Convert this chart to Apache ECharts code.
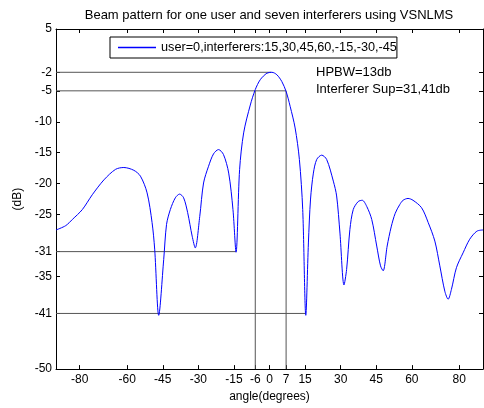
<!doctype html>
<html>
<head>
    <meta charset="utf-8">
    <title>Beam pattern</title>
    <script type="text/javascript" src="https://cdn.jsdelivr.net/npm/echarts@6/dist/echarts.min.js"></script>
</head>
<body style="margin:0;padding:0;">
    <div id="tb" style="width:484px;height:408px;"></div>
    <script>
        // 曲线数据
        var angles = [-90, -85.9, -83.1, -78.9, -74.7, -69.8, -64.9, -61.4, -57.2, -54.4, -51.6, -49.5, -48.4, -46.7,
            -44.6, -43.4, -41.8, -39.7, -37.9, -36.2, -34.5, -32.6, -31.3, -29.4, -27.8, -25.7, -23.6, -21.5, -19.4,
            -17.2, -15.4, -14.1, -12.6, -10.9, -8.1, -6.0, -3.9, -1.1, 1.0, 3.1, 5.2, 7.0, 8.7, 10.8, 12.6, 14.0, 15.3,
            16.4, 17.3, 18.5, 19.9, 22.0, 24.1, 26.9, 28.3, 29.7, 31.4, 32.5, 33.9, 35.3, 37.4, 39.1, 41.0, 43.1, 45.2,
            46.8, 47.9, 49.6, 51.3, 53.0, 54.9, 56.3, 58.4, 60.5, 64.1, 66.9, 69.7, 71.8, 73.9, 75.3, 76.7, 78.8, 81.6,
            84.4, 87.4, 90];
        var gainDb = [-27.5, -26.8, -25.8, -24.2, -21.8, -19.4, -17.7, -17.4, -17.85, -18.8, -21.5, -26.3, -30.6, -41.3,
            -32.3, -26.6, -24.2, -22.3, -21.7, -22.3, -24.7, -28.5, -30.4, -25.3, -19.9, -17.2, -15.2, -14.5, -15.3,
            -18.3, -24.2, -31.1, -17.7, -11.8, -7.3, -4.8, -3.2, -2.15, -2.0, -2.4, -3.5, -5.1, -7.5, -11.0, -16.1, -24.2, -41.3,
            -29.6, -22.5, -18.3, -16.1, -15.4, -16.1, -19.6, -22.0, -28.0, -36.4, -33.9, -27.4, -24.2, -22.9, -22.7, -23.7, -25.8, -30.1,
            -33.3, -34.1, -30.1, -27.0, -24.8, -23.4, -22.7, -22.4, -22.7, -23.9, -26.3, -29.3, -33.3, -37.4, -38.7, -37.1, -33.6, -31.2,
            -29.0, -27.7, -27.5];

        // 刻度
        var xTicks = [-80, -60, -45, -30, -15, -6, 0, 7, 15, 30, 45, 60, 80];
        var yTicks = [5, -2, -5, -10, -15, -20, -25, -31, -35, -41, -50];

        // 辅助线的数值
        var peakDb = -2;
        var peakAngle = 0.7;
        var halfPowerDb = -5;
        var hpbwAngles = [-6, 7];
        var supLevels = [-31, -41];
        var supAngles = [-14.2, 15.3];

        var seriesName = 'user=0,interferers:15,30,45,60,-15,-30,-45';
        var font = 'Liberation Sans, Arial, sans-serif';
        var guideColor = '#555';

        var curve = angles.map(function (a, i) { return [a, gainDb[i]]; });

        var guides = [
            [[-90, peakDb], [peakAngle, peakDb]],
            [[-90, halfPowerDb], [hpbwAngles[1], halfPowerDb]],
            [[hpbwAngles[0], halfPowerDb], [hpbwAngles[0], -50]],
            [[hpbwAngles[1], halfPowerDb], [hpbwAngles[1], -50]],
            [[-90, supLevels[0]], [supAngles[0], supLevels[0]]],
            [[-90, supLevels[1]], [supAngles[1], supLevels[1]]]
        ];

        var series = guides.map(function (g) {
            return {
                type: 'line',
                data: g,
                symbol: 'none',
                silent: true,
                lineStyle: { color: guideColor, width: 1 },
                z: 1
            };
        });
        series.push({
            name: seriesName,
            type: 'line',
            data: curve,
            symbol: 'none',
            smooth: 0.3,
            color: '#0000ff',
            lineStyle: { color: '#0000ff', width: 1 },
            z: 3
        });

        var axisCommon = {
            axisLine: { show: true, onZero: false, lineStyle: { color: '#000', width: 1 } },
            splitLine: { show: false }
        };

        var bt = document.getElementById('tb');
        var btchart = echarts.init(bt);
        btchart.setOption({
            animation: false,
            backgroundColor: '#fff',
            textStyle: { fontFamily: font },
            title: {
                text: 'Beam pattern for one user and seven interferers using VSNLMS',
                left: 269,
                textAlign: 'center',
                top: 9,
                padding: 0,
                textStyle: { fontSize: 13, fontWeight: 'normal', color: '#000', fontFamily: font }
            },
            legend: {
                data: [seriesName],
                left: 110,
                top: 37,
                padding: [3, 0, 3, 8],
                icon: 'rect',
                itemWidth: 38,
                itemHeight: 1.5,
                itemStyle: { color: '#0000ff' },
                borderColor: '#000',
                borderWidth: 1,
                textStyle: { fontSize: 12.7, color: '#000', fontFamily: font, lineHeight: 15 }
            },
            grid: { left: 56, right: 1, top: 29, bottom: 38 },
            xAxis: [
                Object.assign({
                    type: 'value', min: -90, max: 90, position: 'bottom',
                    name: 'angle(degrees)', nameLocation: 'middle', nameGap: 21,
                    nameTextStyle: { fontSize: 12, color: '#000', fontFamily: font },
                    axisTick: { inside: true, length: 4, customValues: xTicks, lineStyle: { color: '#000' } },
                    axisLabel: { customValues: xTicks, margin: 5, fontSize: 12, color: '#000', fontFamily: font }
                }, axisCommon),
                Object.assign({
                    type: 'value', min: -90, max: 90, position: 'top',
                    axisTick: { inside: true, length: 4, customValues: xTicks, lineStyle: { color: '#000' } },
                    axisLabel: { show: false }
                }, axisCommon)
            ],
            yAxis: [
                Object.assign({
                    type: 'value', min: -50, max: 5, position: 'left',
                    name: '(dB)', nameLocation: 'middle', nameGap: 28,
                    nameTextStyle: { fontSize: 12, color: '#000', fontFamily: font },
                    axisTick: { inside: true, length: 4, customValues: yTicks, lineStyle: { color: '#000' } },
                    axisLabel: { customValues: yTicks, margin: 4, fontSize: 12, color: '#000', fontFamily: font }
                }, axisCommon),
                Object.assign({
                    type: 'value', min: -50, max: 5, position: 'right',
                    axisTick: { inside: true, length: 4, customValues: yTicks, lineStyle: { color: '#000' } },
                    axisLabel: { show: false }
                }, axisCommon)
            ],
            graphic: [
                {
                    type: 'text', left: 316, top: 66,
                    style: { text: 'HPBW=13db', fontSize: 13, fill: '#000', fontFamily: font }
                },
                {
                    type: 'text', left: 316, top: 83,
                    style: { text: 'Interferer Sup=31,41db', fontSize: 13, fill: '#000', fontFamily: font }
                }
            ],
            series: series
        });
    </script>
</body>
</html>
